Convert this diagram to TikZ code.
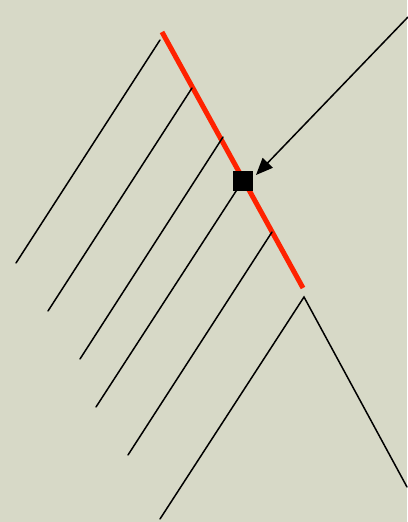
\documentclass[tikz,border=0pt]{standalone}
\usetikzlibrary{arrows.meta}
\definecolor{bg}{RGB}{215,217,199}
\definecolor{redline}{RGB}{255,34,0}
\tikzset{
  ray/.style={black, line width=1.5pt, line cap=round},
  mirror/.style={redline, line width=5pt},
  block/.style={fill=black, draw=none, minimum size=20pt, inner sep=0pt},
  incoming/.style={black, line width=1.5pt, -{Triangle[length=17pt, width=14pt]}}
}
\begin{document}
\begin{tikzpicture}[x=1pt, y=-1pt]
\fill[bg] (0,0) rectangle (407,522);
\useasboundingbox (0,0) rectangle (407,522);
% mirror
\coordinate (m1) at (162,32);
\coordinate (m2) at (303,288);
\draw[mirror] (m1) -- (m2);
% rays
\coordinate (a1) at (160,40);  \coordinate (b1) at (16,263);
\coordinate (a2) at (192,88);  \coordinate (b2) at (48,311);
\coordinate (a3) at (223,137); \coordinate (b3) at (80,359);
\coordinate (a4) at (240,185); \coordinate (b4) at (96,407);
\coordinate (a5) at (272,232); \coordinate (b5) at (128,455);
\coordinate (a6) at (304,297); \coordinate (b6) at (160,519);
\coordinate (c6) at (407,487);
\draw[ray] (a1) -- (b1);
\draw[ray] (a2) -- (b2);
\draw[ray] (a3) -- (b3);
\draw[ray] (a4) -- (b4);
\draw[ray] (a5) -- (b5);
\draw[ray] (b6) -- (a6) -- (c6);
% block and incoming arrow
\node[block] (sq) at (243,180.5) {};
\coordinate (src) at (408,17);
\coordinate (tip) at (256,175);
\draw[incoming] (src) -- (tip);
\end{tikzpicture}
\end{document}
